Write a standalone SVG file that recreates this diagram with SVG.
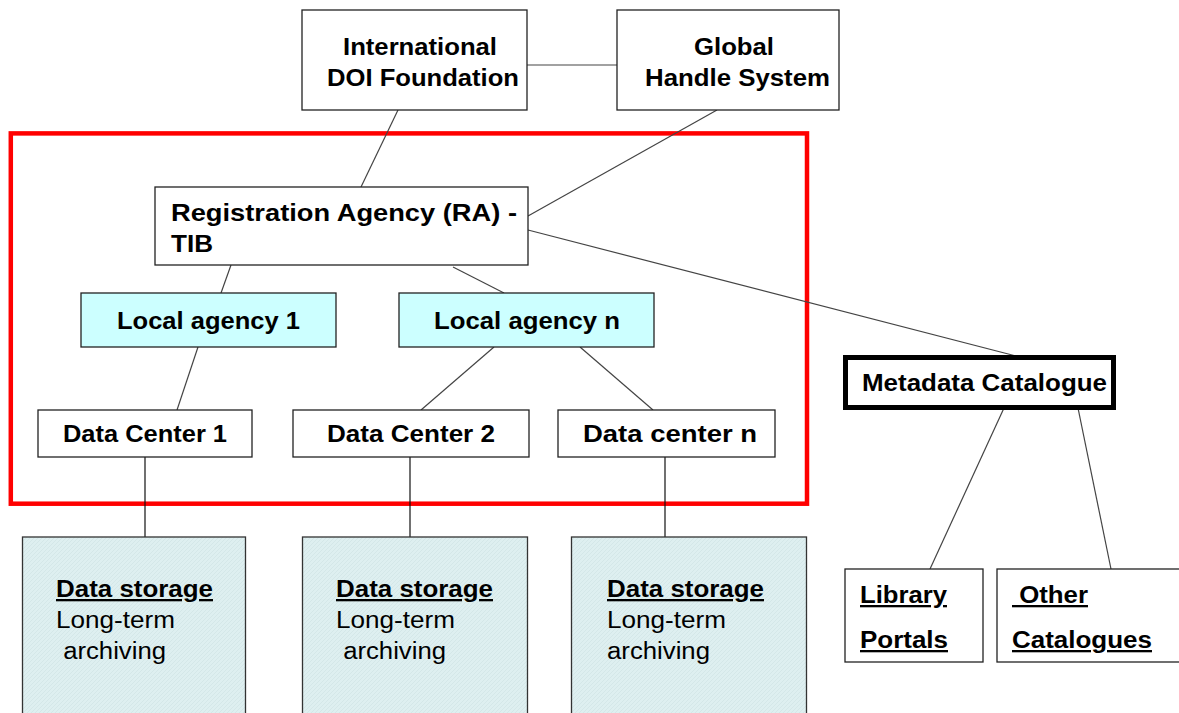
<svg xmlns="http://www.w3.org/2000/svg" width="1179" height="713" viewBox="0 0 1179 713">
<style>
.box{fill:#fff;stroke:#222;stroke-width:1.3}
.la{fill:#ccffff;stroke:#222;stroke-width:1.3}
.st{fill:url(#hatch);stroke:#333;stroke-width:1.3}
.t{font-family:"Liberation Sans",Arial,sans-serif;font-size:23px;font-weight:bold;fill:#000;white-space:pre}
.r{font-family:"Liberation Sans",Arial,sans-serif;font-size:23px;fill:#000;white-space:pre}
.u{text-decoration:underline}
.c{stroke:#444;stroke-width:1.2;fill:none}
.k{stroke:#111;stroke-width:1.2;fill:none}
</style>
<defs>
<pattern id="hatch" width="4" height="4" patternUnits="userSpaceOnUse">
<rect width="4" height="4" fill="#deeff0"/>
<path d="M0,4 L4,0" stroke="#d2e5e6" stroke-width="0.8"/>
</pattern>
</defs>
<rect width="1179" height="713" fill="#fff"/>
<rect id="ra-frame" x="10.8" y="133.4" width="796.2" height="370.3" fill="none" stroke="#ff0000" stroke-width="4.5"/>
<g id="connectors">
<line class="c" x1="527" y1="65" x2="617" y2="65"/>
<line class="c" x1="398" y1="110" x2="361" y2="187"/>
<line class="c" x1="717" y1="110" x2="528" y2="216"/>
<line class="c" x1="528" y1="230" x2="1016" y2="356"/>
<line class="c" x1="231" y1="265" x2="221" y2="293"/>
<line class="c" x1="453" y1="267" x2="504" y2="293"/>
<line class="c" x1="198" y1="347" x2="177" y2="410"/>
<line class="c" x1="494" y1="347" x2="421" y2="410"/>
<line class="c" x1="580" y1="347" x2="653" y2="410"/>
<line class="k" x1="145" y1="454" x2="145" y2="537"/>
<line class="k" x1="410" y1="457" x2="410" y2="537"/>
<line class="k" x1="665" y1="454" x2="665" y2="537"/>
<line class="c" x1="1004" y1="408" x2="930" y2="569"/>
<line class="c" x1="1078" y1="408" x2="1111" y2="569"/>
</g>
<g id="idf">
<rect class="box" x="302" y="10" width="225" height="100"/>
<text class="t" x="343" y="55" textLength="154" lengthAdjust="spacingAndGlyphs">International</text>
<text class="t" x="327" y="86" textLength="192" lengthAdjust="spacingAndGlyphs">DOI Foundation</text>
</g>
<g id="ghs">
<rect class="box" x="617" y="10" width="222" height="100"/>
<text class="t" x="694" y="55" textLength="80" lengthAdjust="spacingAndGlyphs">Global</text>
<text class="t" x="645" y="86" textLength="185" lengthAdjust="spacingAndGlyphs">Handle System</text>
</g>
<g id="ra">
<rect class="box" x="155" y="187" width="373" height="78"/>
<text class="t" x="171" y="221" textLength="346" lengthAdjust="spacingAndGlyphs">Registration Agency (RA) -</text>
<text class="t" x="171" y="252" textLength="42" lengthAdjust="spacingAndGlyphs">TIB</text>
</g>
<g id="la1">
<rect class="la" x="81" y="293" width="255" height="54"/>
<text class="t" x="117" y="329" textLength="183" lengthAdjust="spacingAndGlyphs">Local agency 1</text>
</g>
<g id="lan">
<rect class="la" x="399" y="293" width="255" height="54"/>
<text class="t" x="434" y="329" textLength="186" lengthAdjust="spacingAndGlyphs">Local agency n</text>
</g>
<g id="dc1">
<rect class="box" x="38" y="410" width="214" height="47"/>
<text class="t" x="63" y="442" textLength="164" lengthAdjust="spacingAndGlyphs">Data Center 1</text>
</g>
<g id="dc2">
<rect class="box" x="293" y="410" width="236" height="47"/>
<text class="t" x="327" y="442" textLength="168" lengthAdjust="spacingAndGlyphs">Data Center 2</text>
</g>
<g id="dcn">
<rect class="box" x="558" y="410" width="217" height="47"/>
<text class="t" x="583" y="442" textLength="174" lengthAdjust="spacingAndGlyphs">Data center n</text>
</g>
<g id="mc">
<rect x="845.5" y="357.5" width="268" height="50" fill="#fff" stroke="#000" stroke-width="5"/>
<text class="t" x="862" y="391" textLength="245" lengthAdjust="spacingAndGlyphs">Metadata Catalogue</text>
</g>
<g id="ds1">
<rect class="st" x="22.5" y="537" width="223" height="190"/>
<text class="t u" x="56" y="597" textLength="157" lengthAdjust="spacingAndGlyphs">Data storage</text>
<text class="r" x="56" y="628" textLength="119" lengthAdjust="spacingAndGlyphs">Long-term</text>
<text class="r" x="56" y="659" textLength="110" lengthAdjust="spacingAndGlyphs"> archiving</text>
</g>
<g id="ds2">
<rect class="st" x="302.5" y="537" width="225" height="190"/>
<text class="t u" x="336" y="597" textLength="157" lengthAdjust="spacingAndGlyphs">Data storage</text>
<text class="r" x="336" y="628" textLength="119" lengthAdjust="spacingAndGlyphs">Long-term</text>
<text class="r" x="336" y="659" textLength="110" lengthAdjust="spacingAndGlyphs"> archiving</text>
</g>
<g id="ds3">
<rect class="st" x="571.5" y="537" width="235" height="190"/>
<text class="t u" x="607" y="597" textLength="157" lengthAdjust="spacingAndGlyphs">Data storage</text>
<text class="r" x="607" y="628" textLength="119" lengthAdjust="spacingAndGlyphs">Long-term</text>
<text class="r" x="607" y="659" textLength="103" lengthAdjust="spacingAndGlyphs">archiving</text>
</g>
<g id="lp">
<rect class="box" x="845" y="569" width="138" height="93"/>
<text class="t u" x="860" y="603" textLength="87" lengthAdjust="spacingAndGlyphs">Library</text>
<text class="t u" x="860" y="648" textLength="88" lengthAdjust="spacingAndGlyphs">Portals</text>
</g>
<g id="oc">
<rect class="box" x="997" y="569" width="190" height="93"/>
<text class="t u" x="1012" y="603" textLength="76" lengthAdjust="spacingAndGlyphs"> Other</text>
<text class="t u" x="1012" y="648" textLength="140" lengthAdjust="spacingAndGlyphs">Catalogues</text>
</g>
</svg>
